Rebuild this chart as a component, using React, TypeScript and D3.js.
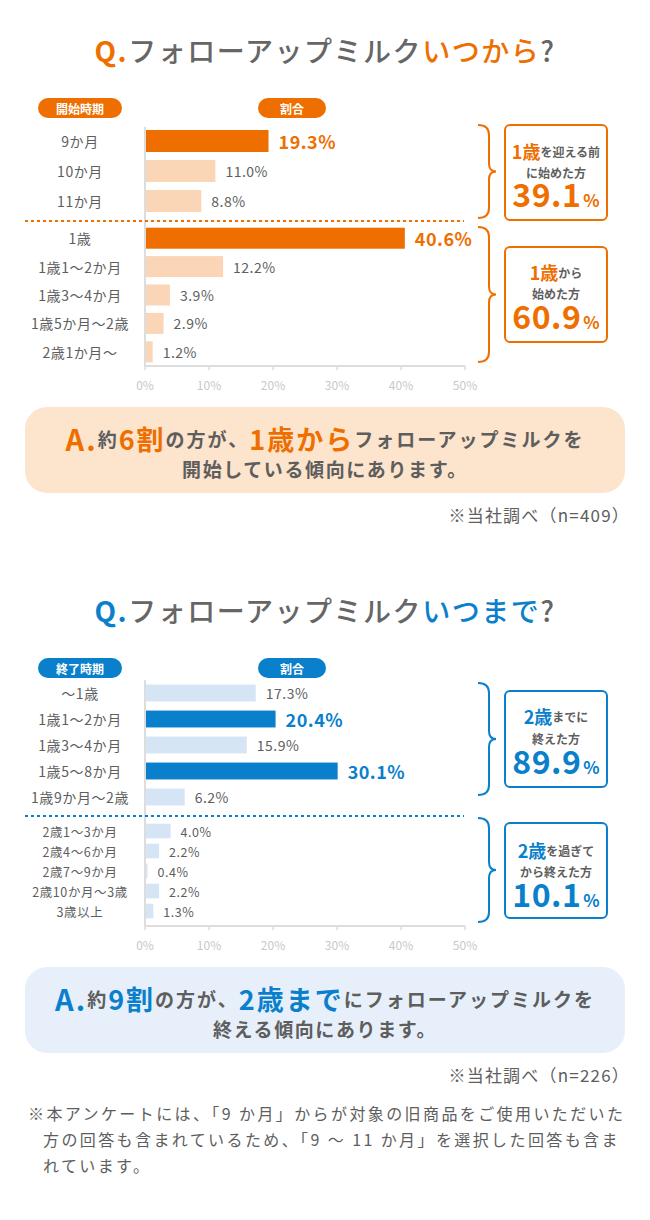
import * as d3 from "d3";
import React from "react";

const FONT = "'Noto Sans CJK JP', 'Noto Sans', sans-serif";
const GRAY = "#5e5e5e";
const ORANGE = "#ee6f00";
const ORANGE_LIGHT = "#fad6b6";
const ORANGE_BG = "#fce4cd";
const BLUE = "#0a7fcc";
const BLUE_LIGHT = "#d5e5f5";
const BLUE_BG = "#e7f0fa";

// いつから（開始時期）
const startLabels = ["9か月", "10か月", "11か月", "1歳", "1歳1〜2か月", "1歳3〜4か月", "1歳5か月〜2歳", "2歳1か月〜"];
const startValues = [19.3, 11.0, 8.8, 40.6, 12.2, 3.9, 2.9, 1.2];
const startBold = [true, false, false, true, false, false, false, false];
const startSplit = 3;

// いつまで（終了時期）
const endLabels = ["〜1歳", "1歳1〜2か月", "1歳3〜4か月", "1歳5〜8か月", "1歳9か月〜2歳", "2歳1〜3か月", "2歳4〜6か月", "2歳7〜9か月", "2歳10か月〜3歳", "3歳以上"];
const endValues = [17.3, 20.4, 15.9, 30.1, 6.2, 4.0, 2.2, 0.4, 2.2, 1.3];
const endBold = [false, true, false, true, false, false, false, false, false, false];
const endSplit = 5;

const tickValues = [0, 10, 20, 30, 40, 50];

const x = d3.scaleLinear().domain([0, 50]).range([145, 465]);

function Pill({ cx, y, w, label, color }) {
  return (
    <g>
      <rect x={cx - w / 2} y={y} width={w} height={20} rx={10} fill={color} />
      <text x={cx} y={y + 10} textAnchor="middle" dominantBaseline="central" fill="#fff" fontSize={12} fontWeight={700}>
        {label}
      </text>
    </g>
  );
}

function Bracket({ y0, y1, color }) {
  const mid = (y0 + y1) / 2;
  const a = 478, b = 489, c = 496;
  const d = `M${a},${y0} Q${b},${y0} ${b},${y0 + 10} L${b},${mid - 8} Q${b},${mid} ${c},${mid} Q${b},${mid} ${b},${mid + 8} L${b},${y1 - 10} Q${b},${y1} ${a},${y1}`;
  return <path d={d} fill="none" stroke={color} strokeWidth={2} />;
}

function Callout({ y0, y1, color, l1a, l1b, l2, big, lineY }) {
  return (
    <g>
      <rect x={505} y={y0} width={102} height={y1 - y0} rx={5} fill="#fff" stroke={color} strokeWidth={2} />
      <text x={556} y={lineY[0]} textAnchor="middle" dominantBaseline="central" fontWeight={700}>
        <tspan fill={color} fontSize={18}>{l1a}</tspan>
        <tspan fill={GRAY} fontSize={12}>{l1b}</tspan>
      </text>
      <text x={556} y={lineY[1]} textAnchor="middle" dominantBaseline="central" fontWeight={700} fill={GRAY} fontSize={12}>
        {l2}
      </text>
      <text x={556} y={lineY[2]} textAnchor="middle" fontWeight={700} fill={color}>
        <tspan fontSize={32} letterSpacing={0.5}>{big}</tspan>
        <tspan fontSize={17} dx={2}>%</tspan>
      </text>
    </g>
  );
}

function BarChart({ labels, values, bold, split, color, light, headLeft, pillY, rangeA, padA, rangeB, padB, dotY, base, axisTop, fontB }) {
  const idxA = labels.slice(0, split).map((_, i) => i);
  const idxB = labels.slice(split).map((_, i) => i + split);
  const yA = d3.scaleBand().domain(idxA).range(rangeA).paddingInner(padA).paddingOuter(padA / 2);
  const yB = d3.scaleBand().domain(idxB).range(rangeB).paddingInner(padB).paddingOuter(padB / 2);
  const rows = labels.map((lab, i) => {
    const inA = i < split;
    const sc = inA ? yA : yB;
    return { lab, v: values[i], b: bold[i], y: sc(i), h: sc.bandwidth(), fs: inA ? 14 : fontB };
  });
  return (
    <g>
      <Pill cx={80} y={pillY} w={84} label={headLeft} color={color} />
      <Pill cx={292} y={pillY} w={68} label="割合" color={color} />
      {/* axis */}
      <line x1={x(0)} x2={x(0)} y1={axisTop} y2={base} stroke="#ddd" strokeWidth={2} />
      <line x1={x(0)} x2={x(50)} y1={base} y2={base} stroke="#ddd" strokeWidth={2} />
      {tickValues.map((t) => (
        <g key={t}>
          <line x1={x(t)} x2={x(t)} y1={base} y2={base + 4} stroke="#ddd" strokeWidth={1.5} />
          <text x={x(t)} y={base + 18} textAnchor="middle" dominantBaseline="central" fill="#c8c8c8" fontSize={12}>
            {t}%
          </text>
        </g>
      ))}
      {rows.map((r, i) => (
        <g key={i}>
          <rect x={x(0) + 1} y={r.y} width={x(r.v) - x(0) - 1} height={r.h} fill={r.b ? color : light} />
          <text x={80} y={r.y + r.h / 2} textAnchor="middle" dominantBaseline="central" fill={GRAY} fontSize={r.fs} letterSpacing={0.6}>
            {r.lab}
          </text>
          <text
            x={x(r.v) + 10}
            y={r.y + r.h / 2}
            dominantBaseline="central"
            fill={r.b ? color : GRAY}
            fontSize={r.b ? 18 : r.fs}
            fontWeight={r.b ? 700 : 400}
            letterSpacing={0.5}
          >
            {r.v.toFixed(1)}%
          </text>
        </g>
      ))}
      <line x1={25} x2={464} y1={dotY} y2={dotY} stroke={color} strokeWidth={2} strokeDasharray="3 3" />
    </g>
  );
}

function Title({ y, color, tail }) {
  return (
    <text x={325} y={y} textAnchor="middle" dominantBaseline="central" fontSize={28} fontWeight={500} letterSpacing={1.5}>
      <tspan fill={color} fontWeight={700}>Q.</tspan>
      <tspan fill="#666">フォローアップミルク</tspan>
      <tspan fill={color}>{tail}</tspan>
      <tspan fill="#666">?</tspan>
    </text>
  );
}

function Answer({ y, color, bg, ratio, key1, rest1, line2 }) {
  return (
    <g>
      <rect x={25} y={y} width={600} height={86} rx={22} fill={bg} />
      <text x={325} y={y + 31} textAnchor="middle" dominantBaseline="central" fontWeight={700} letterSpacing={2}>
        <tspan fill={color} fontSize={29}>A.</tspan>
        <tspan fill={GRAY} fontSize={19}>約</tspan>
        <tspan fill={color} fontSize={27}>{ratio}</tspan>
        <tspan fill={GRAY} fontSize={19}>の方が、</tspan>
        <tspan fill={color} fontSize={27}>{key1}</tspan>
        <tspan fill={GRAY} fontSize={19}>{rest1}</tspan>
      </text>
      <text x={325} y={y + 61} textAnchor="middle" dominantBaseline="central" fontWeight={700} fill={GRAY} fontSize={19} letterSpacing={1.6}>
        {line2}
      </text>
    </g>
  );
}

export default function App() {
  return (
    <svg
      width={650}
      height={1220}
      style={{ position: "absolute", left: 0, top: 0, background: "#fff" }}
      fontFamily={FONT}
    >
      {/* いつから */}
      <Title y={50} color={ORANGE} tail="いつから" />
      <BarChart
        labels={startLabels}
        values={startValues}
        bold={startBold}
        split={startSplit}
        color={ORANGE}
        light={ORANGE_LIGHT}
        headLeft="開始時期"
        pillY={98}
        rangeA={[126, 216]}
        padA={0.267}
        rangeB={[224, 366]}
        padB={0.26}
        dotY={221}
        base={366}
        axisTop={127}
        fontB={14}
      />
      <Bracket y0={125} y1={218} color={ORANGE} />
      <Bracket y0={227} y1={362} color={ORANGE} />
      <Callout y0={125} y1={220} color={ORANGE} l1a="1歳" l1b="を迎える前" l2="に始めた方" big="39.1" lineY={[151, 172, 207]} />
      <Callout y0={247} y1={342} color={ORANGE} l1a="1歳" l1b="から" l2="始めた方" big="60.9" lineY={[272, 293, 329]} />
      <Answer y={407} color={ORANGE} bg={ORANGE_BG} ratio="6割" key1="1歳から" rest1="フォローアップミルクを" line2="開始している傾向にあります。" />
      <text x={630} y={514} textAnchor="end" dominantBaseline="central" fill={GRAY} fontSize={17} letterSpacing={1.2}>
        ※当社調べ（n=409）
      </text>

      {/* いつまで */}
      <Title y={610} color={BLUE} tail="いつまで" />
      <BarChart
        labels={endLabels}
        values={endValues}
        bold={endBold}
        split={endSplit}
        color={BLUE}
        light={BLUE_LIGHT}
        headLeft="終了時期"
        pillY={658}
        rangeA={[680, 810]}
        padA={0.35}
        rangeB={[821, 921]}
        padB={0.27}
        dotY={816}
        base={926}
        axisTop={680}
        fontB={12.5}
      />
      <Bracket y0={683} y1={795} color={BLUE} />
      <Bracket y0={818} y1={922} color={BLUE} />
      <Callout y0={691} y1={787} color={BLUE} l1a="2歳" l1b="までに" l2="終えた方" big="89.9" lineY={[716, 738, 774]} />
      <Callout y0={823} y1={918} color={BLUE} l1a="2歳" l1b="を過ぎて" l2="から終えた方" big="10.1" lineY={[850, 871, 907]} />
      <Answer y={967} color={BLUE} bg={BLUE_BG} ratio="9割" key1="2歳まで" rest1="にフォローアップミルクを" line2="終える傾向にあります。" />
      <text x={630} y={1074} textAnchor="end" dominantBaseline="central" fill={GRAY} fontSize={17} letterSpacing={1.2}>
        ※当社調べ（n=226）
      </text>

      {/* 注記 */}
      <g fill={GRAY} fontSize={16} letterSpacing={2.4} dominantBaseline="central">
        <text x={28} y={1113}>※本アンケートには、「9 か月」からが対象の旧商品をご使用いただいた</text>
        <text x={43} y={1139}>方の回答も含まれているため、「9 〜 11 か月」を選択した回答も含ま</text>
        <text x={43} y={1165}>れています。</text>
      </g>
    </svg>
  );
}
